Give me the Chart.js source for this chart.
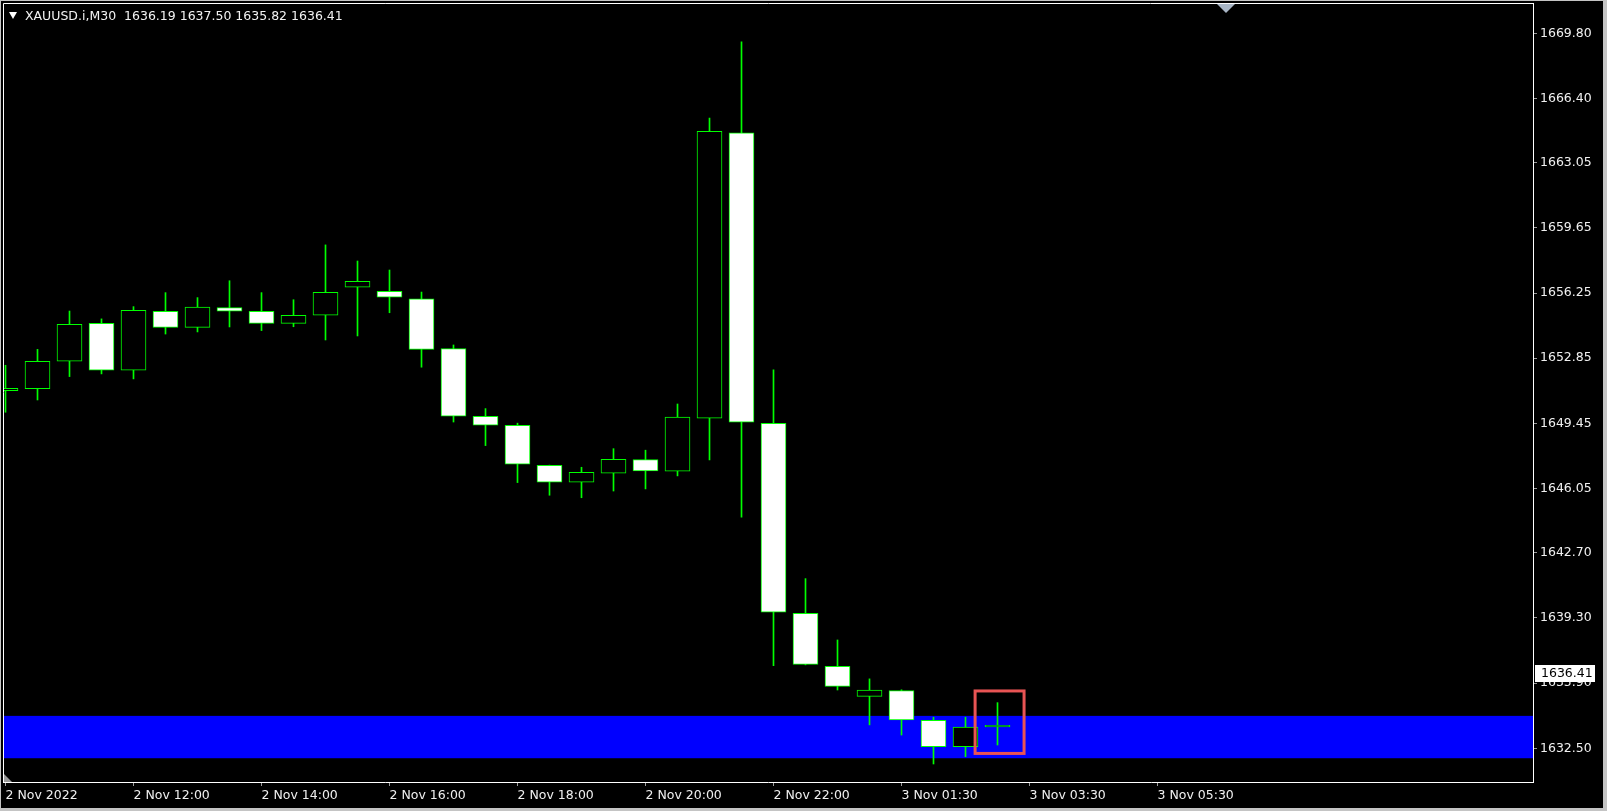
<!DOCTYPE html>
<html lang="en">
<head>
<meta charset="UTF-8" />
<title>XAUUSD.i,M30</title>
<script src="https://cdn.jsdelivr.net/npm/chart.js"></script>
<style>
  html, body { margin: 0; padding: 0; background: #000; overflow: hidden; }
  #wrap { position: relative; width: 1607px; height: 811px; }
  #priceChart { position: absolute; left: 0; top: 0; }
  #header {
    position: absolute; left: 9px; top: 8px;
    color: #f2f2f2; font: 12.5px "DejaVu Sans", sans-serif; line-height: 15px;
    white-space: pre;
  }
  #header .arrow {
    display: inline-block; width: 0; height: 0;
    border-left: 4px solid transparent; border-right: 4px solid transparent;
    border-top: 7px solid #fff; margin-right: 8px; vertical-align: 1px;
  }
</style>
</head>
<body>
<div id="wrap">
  <canvas id="priceChart" width="1607" height="811"></canvas>
  <div id="header"><span class="arrow"></span>XAUUSD.i,M30  1636.19 1637.50 1635.82 1636.41</div>
</div>

<script>
  // M30 bars
  const candleTimes = [
    "2 Nov 10:00", "2 Nov 10:30", "2 Nov 11:00", "2 Nov 11:30", "2 Nov 12:00", "2 Nov 12:30",
    "2 Nov 13:00", "2 Nov 13:30", "2 Nov 14:00", "2 Nov 14:30", "2 Nov 15:00", "2 Nov 15:30",
    "2 Nov 16:00", "2 Nov 16:30", "2 Nov 17:00", "2 Nov 17:30", "2 Nov 18:00", "2 Nov 18:30",
    "2 Nov 19:00", "2 Nov 19:30", "2 Nov 20:00", "2 Nov 20:30", "2 Nov 21:00", "2 Nov 21:30",
    "2 Nov 22:00", "2 Nov 22:30", "2 Nov 23:00", "2 Nov 23:30", "3 Nov 01:30", "3 Nov 02:00",
    "3 Nov 02:30", "3 Nov 03:00"
  ];
  const openPrices = [
    1651.15, 1651.26, 1652.69, 1654.67, 1652.22, 1655.30, 1654.46, 1655.49, 1655.30, 1654.67,
    1655.09, 1656.55, 1656.34, 1655.95, 1653.35, 1649.82, 1649.35, 1647.26, 1646.38, 1646.85,
    1647.56, 1646.95, 1649.72, 1664.61, 1649.45, 1639.54, 1636.78, 1635.21, 1635.51, 1633.96,
    1632.58, 1633.62
  ];
  const highPrices = [
    1652.48, 1653.31, 1655.31, 1654.90, 1655.54, 1656.27, 1656.01, 1656.89, 1656.27, 1655.90,
    1658.76, 1657.92, 1657.45, 1656.30, 1653.54, 1650.22, 1649.46, 1647.27, 1647.16, 1648.13,
    1648.05, 1650.46, 1665.37, 1669.36, 1652.24, 1641.35, 1638.15, 1636.12, 1635.55, 1634.12,
    1634.12, 1634.88
  ];
  const lowPrices = [
    1650.03, 1650.67, 1651.89, 1652.03, 1651.77, 1654.11, 1654.22, 1654.48, 1654.29, 1654.49,
    1653.80, 1654.01, 1655.22, 1652.38, 1649.52, 1648.29, 1646.36, 1645.70, 1645.57, 1645.92,
    1646.03, 1646.71, 1647.54, 1644.55, 1636.81, 1636.85, 1635.54, 1633.72, 1633.19, 1631.68,
    1632.06, 1632.67
  ];
  const closePrices = [
    1651.28, 1652.69, 1654.62, 1652.22, 1655.35, 1654.46, 1655.51, 1655.30, 1654.67, 1655.09,
    1656.29, 1656.86, 1656.03, 1653.31, 1649.82, 1649.35, 1647.32, 1646.38, 1646.90, 1647.58,
    1646.97, 1649.78, 1664.69, 1649.51, 1639.60, 1636.88, 1635.73, 1635.53, 1633.98, 1632.58,
    1633.60, 1633.70
  ];

  const priceTicks = [1669.80, 1666.40, 1663.05, 1659.65, 1656.25, 1652.85, 1649.45, 1646.05, 1642.70, 1639.30, 1635.90, 1632.50];
  const timeTickBars = [0, 4, 8, 12, 16, 20, 24, 28, 32, 36];
  const timeTicks = ["2 Nov 2022", "2 Nov 12:00", "2 Nov 14:00", "2 Nov 16:00", "2 Nov 18:00",
                     "2 Nov 20:00", "2 Nov 22:00", "3 Nov 01:30", "3 Nov 03:30", "3 Nov 05:30"];

  const lastPrice = 1636.41;
  const zoneLow = 1631.98;   // blue rectangle
  const zoneHigh = 1634.19;
  const markBox = { from: 30.3, to: 31.83, low: 1632.23, high: 1635.49 }; // red frame round last bar
  const shiftBar = 38.14;    // chart shift marker

  const GREEN = "#00ff00";

  const wickData = candleTimes.map((t, i) => ({ x: i, y: [lowPrices[i], highPrices[i]] }));
  const bodyData = candleTimes.map((t, i) => ({ x: i, y: [openPrices[i], closePrices[i]] }));
  const bodyColors = candleTimes.map((t, i) => closePrices[i] > openPrices[i] ? "#000000" : "#ffffff");

  const chartDecor = {
    id: "chartDecor",
    beforeDatasetsDraw(chart) {
      const { ctx, chartArea: a, scales: { y } } = chart;
      const top = y.getPixelForValue(zoneHigh);
      const bot = y.getPixelForValue(zoneLow);
      ctx.save();
      ctx.fillStyle = "#0000ff";
      ctx.fillRect(a.left, top, a.right - a.left, bot - top);
      ctx.restore();
    },
    afterDatasetsDraw(chart) {
      const { ctx, scales: { x, y } } = chart;
      const l = x.getPixelForValue(markBox.from), r = x.getPixelForValue(markBox.to);
      const t = y.getPixelForValue(markBox.high), b = y.getPixelForValue(markBox.low);
      ctx.save();
      ctx.strokeStyle = "rgb(232,84,84)";
      ctx.lineWidth = 3;
      ctx.strokeRect(l, t, r - l, b - t);
      ctx.restore();
    },
    afterDraw(chart) {
      const { ctx, chartArea: a, scales: { x, y } } = chart;
      ctx.save();
      // top and left frame of the plot
      ctx.strokeStyle = "#ffffff";
      ctx.lineWidth = 1;
      ctx.beginPath();
      ctx.moveTo(a.left + 0.5, a.bottom);
      ctx.lineTo(a.left + 0.5, a.top + 0.5);
      ctx.lineTo(a.right, a.top + 0.5);
      ctx.stroke();

      // chart shift marker
      const sx = x.getPixelForValue(shiftBar);
      ctx.fillStyle = "#a9b6c6";
      ctx.beginPath();
      ctx.moveTo(sx - 9, a.top + 1);
      ctx.lineTo(sx + 9, a.top + 1);
      ctx.lineTo(sx, a.top + 10);
      ctx.closePath();
      ctx.fill();

      // scroll marker bottom left
      ctx.fillStyle = "#9a9a9a";
      ctx.beginPath();
      ctx.moveTo(a.left + 1, a.bottom - 8);
      ctx.lineTo(a.left + 1, a.bottom);
      ctx.lineTo(a.left + 9, a.bottom);
      ctx.closePath();
      ctx.fill();

      // last price label
      const py = Math.round(y.getPixelForValue(lastPrice));
      ctx.fillStyle = "#ffffff";
      ctx.fillRect(a.right + 2, py - 8, 60, 17);
      ctx.fillStyle = "#000000";
      ctx.font = '12.5px "DejaVu Sans", sans-serif';
      ctx.textBaseline = "middle";
      ctx.fillText(lastPrice.toFixed(2), a.right + 8, py + 1);

      // window frame
      ctx.fillStyle = "#c4c4c4";
      ctx.fillRect(0, 0, chart.width, 1);
      ctx.fillRect(0, 0, 1, chart.height);
      ctx.fillRect(chart.width - 4, 0, 4, chart.height);
      ctx.fillRect(0, chart.height - 3, chart.width, 3);
      ctx.restore();
    }
  };

  const ctx = document.getElementById("priceChart").getContext("2d");
  new Chart(ctx, {
    type: "bar",
    data: {
      datasets: [
        { label: "wick", data: wickData, backgroundColor: GREEN, barThickness: 1, grouped: false, order: 2 },
        { label: "body", data: bodyData, backgroundColor: bodyColors, borderColor: GREEN, borderWidth: 1,
          borderSkipped: false, barThickness: 25, grouped: false, order: 1 }
      ]
    },
    options: {
      responsive: false,
      animation: false,
      devicePixelRatio: 1,
      layout: { padding: { left: 3, top: 3, right: 0, bottom: 0 } },
      plugins: { legend: { display: false }, tooltip: { enabled: false } },
      scales: {
        x: {
          type: "linear",
          min: -0.078125,
          max: 47.734375,
          offset: false,
          grid: { drawOnChartArea: false, offset: false, color: "#9a9a9a", tickLength: 4 },
          border: { display: true, color: "#ffffff", width: 1 },
          afterBuildTicks: (s) => { s.ticks = timeTickBars.map(v => ({ value: v })); },
          afterFit: (s) => { s.height = 29; s.paddingLeft = 0; s.paddingRight = 0; },
          ticks: {
            color: "#f0f0f0",
            font: { family: "DejaVu Sans", size: 12.5 },
            align: "start",
            maxRotation: 0,
            autoSkip: false,
            padding: 2,
            callback: (v, i) => timeTicks[i]
          }
        },
        y: {
          position: "right",
          min: 1630.74,
          max: 1671.38,
          grid: { drawOnChartArea: false, color: "#9a9a9a", tickLength: 4 },
          border: { display: true, color: "#ffffff", width: 1 },
          afterBuildTicks: (s) => { s.ticks = priceTicks.map(v => ({ value: v })); },
          afterFit: (s) => { s.width = 74; s.paddingTop = 0; s.paddingBottom = 0; },
          ticks: {
            color: "#f0f0f0",
            font: { family: "DejaVu Sans", size: 12.5 },
            padding: 3,
            autoSkip: false,
            callback: (v) => Number(v).toFixed(2)
          }
        }
      }
    },
    plugins: [chartDecor]
  });
</script>
</body>
</html>
